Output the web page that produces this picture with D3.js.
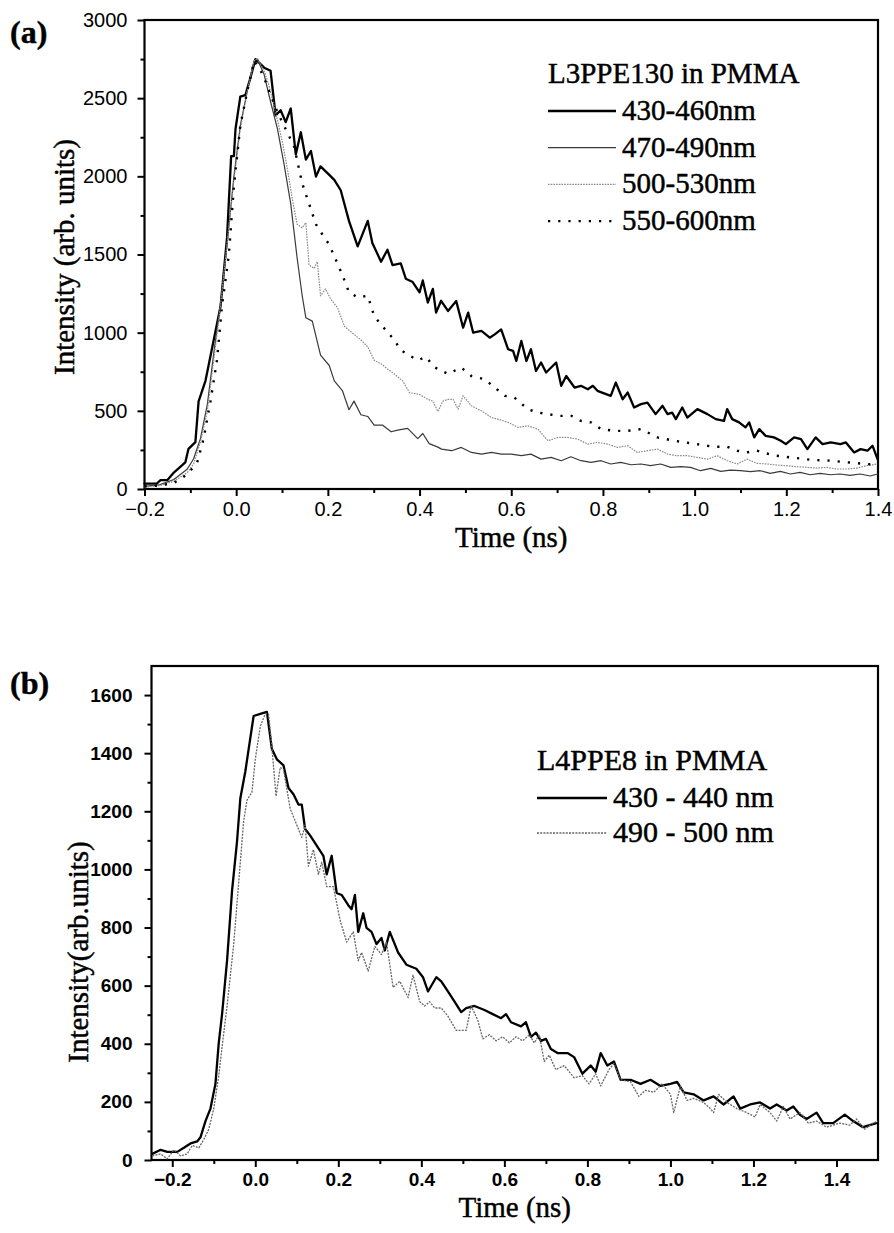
<!DOCTYPE html>
<html>
<head>
<meta charset="utf-8">
<script src="https://cdn.jsdelivr.net/npm/d3@7/dist/d3.min.js"></script>
<style>
  body { margin: 0; background: #fff; }
  .serif { font-family: "Liberation Serif", "Times New Roman", serif; fill: #000; stroke: #000; stroke-width: 0.45px; }
  .tickA text { font-family: "Liberation Sans", Arial, sans-serif; font-size: 20px; fill: #000; }
  .tickB text { font-family: "Liberation Sans", Arial, sans-serif; font-size: 19px; font-weight: bold; fill: #000; }
  .tick line { stroke: #000; stroke-width: 2; }
  .domain { display: none; }
</style>
</head>
<body>
<svg id="chart" width="894" height="1233"></svg>
<script>
// ---- panel (a): L3PPE130 in PMMA ----
const a1Time = [-0.2,-0.173,-0.165,-0.15,-0.136,-0.111,-0.104,-0.089,-0.082,-0.067,-0.049,-0.034,-0.020,-0.011,-0.005,-0.0015,0.009,0.020,0.031,0.042,0.061,0.075,0.086,0.097,0.108,0.119,0.130,0.141,0.152,0.163,0.174,0.184,0.203,0.214,0.228,0.246,0.265,0.287,0.297,0.316,0.330,0.341,0.359,0.370,0.385,0.400,0.407,0.418,0.429,0.436,0.447,0.462,
  0.480,0.495,0.506,0.517,0.535,0.553,0.564,0.578,0.593,0.604,0.611,0.622,0.633,0.643,0.654,0.665,0.676,0.698,0.709,0.720,0.738,0.752,0.767,0.778,0.788,0.817,0.828,0.843,0.854,0.868,0.883,0.897,0.915,0.930,0.941,0.951,0.959,0.973,0.984,1.006,1.028,1.046,1.064,1.071,1.082,1.097,1.111,1.119,1.130,1.141,1.155,1.173,1.188,1.199,1.217,1.232,1.246,1.264,1.279,1.297,1.318,1.330,1.348,1.362,1.377,1.388,1.399];
const a1Int = [35,35,57,57,105,170,257,300,560,692,953,1171,1606,2129,2129,2303,2510,2520,2630,2750,2695,2675,2390,2423,2347,2434,2140,2282,2107,2162,1998,2064,2009,1977,1911,1715,1552,1715,1574,1454,1530,1432,1443,1345,1324,1258,1334,1193,1280,1128,1204,1139,
  1202,1032,1128,1000,1011,968,989,1021,894,883,819,947,819,894,755,809,745,809,660,723,649,660,638,660,628,596,681,574,617,521,543,553,479,532,479,489,447,521,457,511,479,447,436,511,447,426,394,426,330,383,340,330,309,287,330,319,255,330,287,298,287,298,234,255,245,277,191];

const a2Time = [-0.2,-0.166,-0.136,-0.107,-0.093,-0.078,-0.063,-0.049,-0.034,-0.020,-0.005,0.009,0.024,0.039,0.046,0.061,0.075,0.090,0.104,0.119,0.133,0.144,0.152,0.166,0.184,0.203,0.214,0.232,0.246,0.257,0.272,0.287,0.301,0.319,0.338,0.352,0.374,0.396,0.407,0.421,0.440,
  0.448,0.470,0.491,0.513,0.535,0.557,0.578,0.600,0.622,0.643,0.665,0.687,0.709,0.730,0.752,0.774,0.796,0.817,0.839,0.861,0.883,0.904,0.926,0.948,0.970,0.991,1.013,1.035,1.057,1.078,1.100,1.122,1.143,1.165,1.187,1.209,1.230,1.252,1.274,1.296,1.317,1.339,1.361,1.383,1.399];
const a2Int = [17,28,61,126,192,322,540,866,1193,1563,1998,2325,2542,2738,2750,2651,2477,2303,2085,1824,1476,1236,1095,1074,856,790,692,627,507,562,475,464,409,409,366,377,388,322,355,290,268,
  255,245,266,234,223,234,223,223,213,223,191,202,181,206,181,170,181,160,170,155,160,149,160,138,143,138,117,132,113,121,117,111,117,100,113,96,106,91,100,91,96,87,96,83,96];

const a3Time = [-0.2,-0.166,-0.136,-0.107,-0.093,-0.078,-0.063,-0.049,-0.034,-0.020,-0.005,0.009,0.024,0.039,0.046,0.061,0.071,0.086,0.101,0.112,0.123,0.133,0.144,0.152,0.159,0.170,0.177,0.184,0.195,0.206,0.221,0.236,0.254,0.272,0.287,0.301,0.316,0.330,0.345,0.363,0.378,0.400,0.418,0.429,0.440,0.451,0.462,
  0.473,0.484,0.495,0.513,0.535,0.557,0.571,0.593,0.615,0.636,0.658,0.680,0.702,0.723,0.745,0.767,0.788,0.810,0.832,0.854,0.875,0.897,0.919,0.941,0.962,0.984,1.006,1.028,1.049,1.071,1.093,1.114,1.136,1.158,1.180,1.201,1.223,1.246,1.267,1.288,1.310,1.332,1.354,1.375,1.399];
const a3Int = [13,22,50,104,159,300,496,823,1171,1563,1977,2303,2542,2738,2756,2673,2586,2412,2216,2042,1846,1693,1671,1704,1432,1411,1454,1236,1280,1215,1160,1041,997,953,910,823,801,768,736,692,616,605,573,562,496,562,573,
  574,511,596,532,500,457,447,426,394,404,383,309,330,330,319,287,298,287,266,277,234,245,255,223,213,213,202,191,213,181,160,191,164,160,153,149,143,138,134,138,128,128,134,149,160];

const a4Time = [-0.2,-0.166,-0.136,-0.107,-0.085,-0.071,-0.056,-0.042,-0.031,-0.016,-0.005,0.009,0.024,0.039,0.050,0.061,0.075,0.090,0.104,0.126,0.144,0.159,0.174,0.188,0.203,0.232,0.246,0.265,0.287,0.301,0.319,0.345,0.359,0.396,0.414,0.432,0.462,
  0.491,0.513,0.542,0.564,0.586,0.607,0.636,0.658,0.680,0.702,0.731,0.752,0.774,0.796,0.825,0.854,0.883,0.919,0.955,0.998,1.042,1.071,1.093,1.114,1.136,1.172,1.201,1.230,1.259,1.288,1.317,1.354,1.383,1.399];
const a4Int = [17,22,39,93,170,322,562,823,1171,1497,1933,2325,2542,2738,2695,2630,2520,2412,2325,2194,1955,1824,1693,1628,1563,1367,1258,1226,1236,1106,1041,953,888,823,845,780,736,
  777,723,702,649,596,585,511,489,479,468,468,436,426,383,372,372,383,330,309,290,270,270,245,234,245,215,205,195,185,183,175,165,158,158];

const aLabels = ["430-460nm", "470-490nm", "500-530nm", "550-600nm"];
const aXTicks = [-0.2, 0.0, 0.2, 0.4, 0.6, 0.8, 1.0, 1.2, 1.4];
const aYTicks = [0, 500, 1000, 1500, 2000, 2500, 3000];

// ---- panel (b): L4PPE8 in PMMA ----
const b1Time = [-0.248,-0.228,-0.212,-0.188,-0.172,-0.156,-0.140,-0.132,-0.120,-0.108,-0.096,-0.088,-0.080,-0.068,-0.056,-0.044,-0.036,-0.024,-0.016,-0.004,0.012,0.028,0.040,0.052,0.068,0.080,0.092,0.104,0.112,0.120,0.132,0.148,0.164,0.172,0.184,0.196,0.208,0.224,0.232,0.240,0.248,0.260,0.268,0.280,0.292,0.304,0.312,0.324,0.344,0.364,0.388,0.404,0.416,0.436,0.448,
  0.464,0.480,0.496,0.508,0.528,0.552,0.572,0.592,0.604,0.616,0.640,0.652,0.664,0.676,0.688,0.700,0.712,0.728,0.752,0.768,0.788,0.808,0.820,0.832,0.848,0.864,0.880,0.904,0.928,0.952,0.976,1.000,1.016,1.032,1.056,1.080,1.104,1.128,1.152,1.168,1.192,1.216,1.240,1.256,1.280,1.296,1.312,1.328,1.352,1.368,1.392,1.420,1.440,1.464,1.496];
const b1Int = [21,35,28,28,42,57,64,78,134,177,262,403,502,686,926,1096,1245,1337,1414,1528,1535,1542,1414,1379,1358,1280,1259,1223,1223,1139,1117,1082,1047,983,1047,919,912,877,863,912,785,849,799,785,743,764,721,785,714,672,658,629,580,629,615,
  580,545,509,523,530,516,502,488,502,474,460,474,424,438,410,417,382,368,368,354,297,325,304,368,325,339,276,276,262,276,255,262,269,233,226,205,219,191,219,177,191,198,177,191,170,184,156,141,163,127,127,156,134,113,127];

const b2Time = [-0.248,-0.228,-0.212,-0.196,-0.180,-0.164,-0.152,-0.136,-0.124,-0.112,-0.100,-0.088,-0.080,-0.068,-0.052,-0.040,-0.028,-0.020,-0.008,0.000,0.012,0.024,0.032,0.040,0.050,0.060,0.068,0.084,0.100,0.112,0.120,0.128,0.140,0.152,0.160,0.172,0.188,0.204,0.220,0.236,0.248,0.256,0.272,0.288,0.304,0.316,0.332,0.348,0.368,0.380,0.396,0.408,0.420,0.432,0.448,
  0.464,0.484,0.508,0.520,0.536,0.548,0.564,0.580,0.596,0.612,0.628,0.644,0.660,0.672,0.684,0.696,0.708,0.724,0.744,0.768,0.788,0.804,0.820,0.832,0.852,0.864,0.880,0.904,0.924,0.940,0.960,0.980,1.000,1.008,1.024,1.040,1.056,1.080,1.096,1.104,1.116,1.136,1.160,1.184,1.204,1.216,1.240,1.256,1.272,1.288,1.312,1.332,1.352,1.376,1.408,1.432,1.448,1.468,1.488,1.500];
const b2Int = [14,21,4,35,14,21,50,42,71,106,177,290,389,530,742,955,1167,1238,1266,1379,1492,1535,1535,1421,1252,1351,1344,1209,1153,1110,1153,1011,1068,983,1025,941,941,827,750,785,686,714,650,735,707,750,594,615,559,636,545,530,545,523,523,
  495,446,446,530,481,417,431,410,424,403,424,410,431,403,431,339,361,311,325,283,290,262,297,255,311,332,276,269,219,240,233,262,226,163,255,205,212,198,177,163,226,198,177,163,148,191,163,134,184,141,163,127,134,113,127,120,141,106,127,134];

const bLabels = ["430 - 440 nm", "490 - 500 nm"];
const bXTicks = [-0.2, 0.0, 0.2, 0.4, 0.6, 0.8, 1.0, 1.2, 1.4];
const bYTicks = [0, 200, 400, 600, 800, 1000, 1200, 1400, 1600];

const svg = d3.select("#chart");
svg.append("rect").attr("width", 894).attr("height", 1233).attr("fill", "#fff");

const styles = {
  thick:  { stroke: "#000", width: 2.3, dash: null },
  thin:   { stroke: "#3a3a3a", width: 1.2, dash: null },
  dotted: { stroke: "#8a8a8a", width: 1.2, dash: "1.6,1.1" },
  dots:   { stroke: "#000", width: 2.4, dash: "2.2,8" },
  grayB:  { stroke: "#666", width: 1.3, dash: "2,1.2" }
};

function zip(ts, vs) { return ts.map((t, i) => ({ t: t, v: vs[i] })); }

function drawPanel(p) {
  const x = d3.scaleLinear().domain(p.xDomain).range([p.left, p.right]);
  const y = d3.scaleLinear().domain(p.yDomain).range([p.bottom, p.top]);
  const g = svg.append("g");

  // minor ticks first, then major ones with labels
  g.append("g").attr("transform", `translate(0,${p.bottom})`)
    .call(d3.axisBottom(x).tickValues(p.xMinor).tickSize(4).tickFormat("").tickSizeOuter(0));
  g.append("g").attr("transform", `translate(${p.left},0)`)
    .call(d3.axisLeft(y).tickValues(p.yMinor).tickSize(4).tickFormat("").tickSizeOuter(0));

  g.append("g").attr("class", p.tickClass).attr("transform", `translate(0,${p.bottom})`)
    .call(d3.axisBottom(x).tickValues(p.xTicks).tickSize(7).tickPadding(p.xPad)
      .tickFormat(d3.format(".1f")).tickSizeOuter(0));
  g.append("g").attr("class", p.tickClass).attr("transform", `translate(${p.left},0)`)
    .call(d3.axisLeft(y).tickValues(p.yTicks).tickSize(7).tickPadding(p.yPad)
      .tickFormat(d3.format("d")).tickSizeOuter(0));

  g.append("rect")
    .attr("x", p.left).attr("y", p.top)
    .attr("width", p.right - p.left).attr("height", p.bottom - p.top)
    .attr("fill", "none").attr("stroke", "#000").attr("stroke-width", 2.2);

  const line = d3.line().x(d => x(d.t)).y(d => y(d.v));
  p.series.forEach(s => {
    const st = styles[s.style];
    g.append("path").datum(zip(s.t, s.v))
      .attr("d", line).attr("fill", "none")
      .attr("stroke", st.stroke).attr("stroke-width", st.width)
      .attr("stroke-linejoin", "round").attr("stroke-linecap", st.dash ? "butt" : "round")
      .attr("stroke-dasharray", st.dash);
  });

  // legend
  g.append("text").attr("class", "serif").attr("x", p.legend.x).attr("y", p.legend.y)
    .attr("font-size", p.legend.size).text(p.legend.title);
  p.series.forEach((s, i) => {
    const cy = p.legend.y + p.legend.first + i * p.legend.step;
    const st = styles[s.style];
    g.append("line").attr("x1", p.legend.x).attr("x2", p.legend.x + p.legend.len)
      .attr("y1", cy - 9).attr("y2", cy - 9)
      .attr("stroke", st.stroke).attr("stroke-width", st.width).attr("stroke-dasharray", st.dash);
    g.append("text").attr("class", "serif").attr("x", p.legend.x + p.legend.len + 6).attr("y", cy)
      .attr("font-size", p.legend.size).text(s.label);
  });

  // axis titles and panel tag
  g.append("text").attr("class", "serif")
    .attr("transform", `translate(${p.yTitle.x},${p.yTitle.y}) rotate(-90)`)
    .attr("text-anchor", "middle").attr("font-size", p.yTitle.size).text(p.yTitle.text);
  g.append("text").attr("class", "serif")
    .attr("x", (p.left + p.right) / 2).attr("y", p.xTitleY)
    .attr("text-anchor", "middle").attr("font-size", 29).text("Time (ns)");
  g.append("text").attr("class", "serif").attr("x", 10).attr("y", p.tagY)
    .attr("font-size", 32).attr("font-weight", "bold").text(p.tag);
}

drawPanel({
  left: 144.5, right: 878, top: 20, bottom: 489,
  xDomain: [-0.2, 1.4], yDomain: [0, 3000],
  xTicks: aXTicks, yTicks: aYTicks,
  xMinor: d3.range(-0.1, 1.4, 0.2), yMinor: d3.range(250, 3000, 500),
  tickClass: "tickA", xPad: 6, yPad: 10,
  series: [
    { t: a1Time, v: a1Int, style: "thick", label: aLabels[0] },
    { t: a2Time, v: a2Int, style: "thin", label: aLabels[1] },
    { t: a3Time, v: a3Int, style: "dotted", label: aLabels[2] },
    { t: a4Time, v: a4Int, style: "dots", label: aLabels[3] }
  ],
  legend: { x: 548, y: 83, first: 37, step: 36.7, len: 68, size: 29, title: "L3PPE130 in PMMA" },
  yTitle: { x: 74, y: 257, size: 29, text: "Intensity (arb. units)" },
  xTitleY: 547, tag: "(a)", tagY: 43
});

drawPanel({
  left: 151.5, right: 878, top: 666, bottom: 1160,
  xDomain: [-0.25, 1.5], yDomain: [0, 1700],
  xTicks: bXTicks, yTicks: bYTicks,
  xMinor: d3.range(-0.1, 1.5, 0.2), yMinor: d3.range(100, 1700, 200),
  tickClass: "tickB", xPad: 6, yPad: 12,
  series: [
    { t: b1Time, v: b1Int, style: "thick", label: bLabels[0] },
    { t: b2Time, v: b2Int, style: "grayB", label: bLabels[1] }
  ],
  legend: { x: 537, y: 770, first: 37, step: 35, len: 70, size: 30, title: "L4PPE8 in PMMA" },
  yTitle: { x: 88, y: 952, size: 29, text: "Intensity(arb.units)" },
  xTitleY: 1217, tag: "(b)", tagY: 694
});
</script>
</body>
</html>
